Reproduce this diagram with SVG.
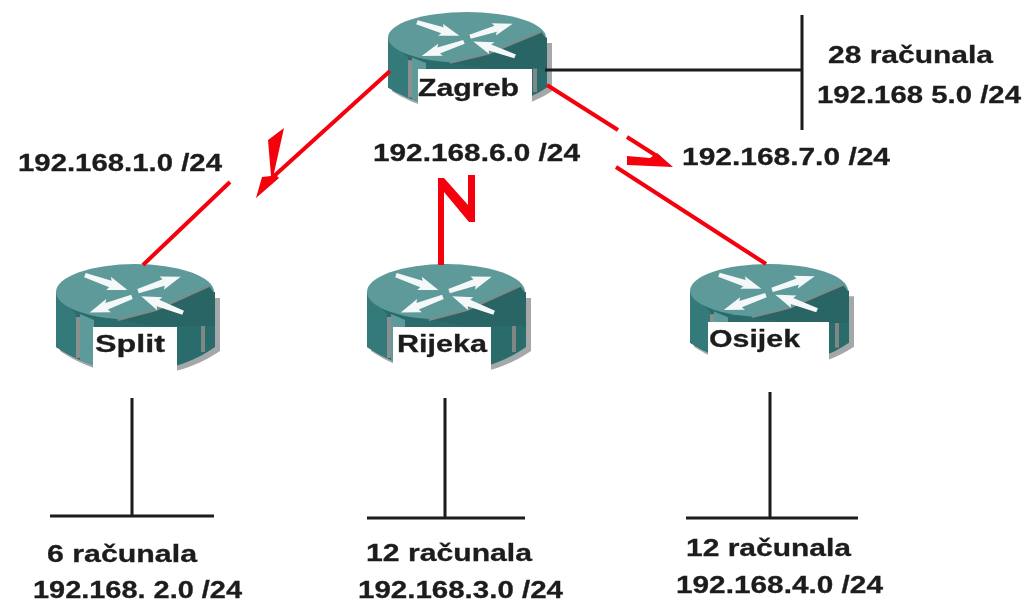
<svg xmlns="http://www.w3.org/2000/svg" xmlns:xlink="http://www.w3.org/1999/xlink" width="1031" height="602" viewBox="0 0 1031 602">
<style>
text{font-family:"Liberation Sans",Arial,sans-serif;font-weight:700;font-size:24px;fill:#1c1c1c;stroke:#1c1c1c;stroke-width:.3}
.lan{stroke:#1a1a1a;stroke-width:3;fill:none}
.wan{stroke:#f5060f;stroke-width:4;fill:none}
.bolt{fill:#f5060f}
.lab{fill:#fff}
</style>
<defs>
<filter id="soft" x="0" y="0" width="100%" height="100%" filterUnits="userSpaceOnUse"><feGaussianBlur stdDeviation="0.6"/></filter>
<polygon id="arw" points="0,-2 27,-3.5 25,-7 45,0 25,7 27,3.5 0,2.5" fill="#f4f8f8"/>
<g id="router">
<path d="M4,34V87C24,101 54,112 83,112C114,112 144,101 164,87V34Z" fill="#a4a8a8"/>
<path d="M0,28V83C20,97 50,108 79,108C110,108 140,97 159,83V28Z" fill="#2c6c6c"/>
<path d="M24,50V96L38,102V56Z" fill="#5f9a9a"/>
<path d="M0,30V83L20,94V50Z" fill="#347a7a"/>
<rect x="20" y="53" width="4" height="41" fill="#8a9090"/>
<rect x="145" y="46" width="4" height="42" fill="#7f8787"/>
<ellipse cx="79" cy="28" rx="79" ry="28" fill="#5f9a9a"/>
<path d="M62,56L100,46L153,22L159,30V62H100Z" fill="#2c6565"/>
<path d="M62,56L100,46L153,22" fill="none" stroke="#7c8c8c" stroke-width="2"/>
<use xlink:href="#arw" href="#arw" transform="translate(29,11) rotate(19.6)"/>
<use xlink:href="#arw" href="#arw" transform="translate(82,27) rotate(-18.4)"/>
<use xlink:href="#arw" href="#arw" transform="translate(76,33) rotate(160)"/>
<use xlink:href="#arw" href="#arw" transform="translate(127,49) rotate(201.8)"/>
</g>
</defs>
<g filter="url(#soft)">
<g id="zagreb"><use xlink:href="#router" href="#router" transform="translate(388,12) scale(1,.91)"/><rect class="lab" x="418" y="69" width="114" height="45"/><text x="418" y="96" textLength="101" lengthAdjust="spacingAndGlyphs">Zagreb</text></g>
<g id="split"><use xlink:href="#router" href="#router" x="56" y="264"/><rect class="lab" x="93" y="327" width="84" height="52"/><text x="95" y="352" textLength="70" lengthAdjust="spacingAndGlyphs">Split</text></g>
<g id="rijeka"><use xlink:href="#router" href="#router" x="367" y="264"/><rect class="lab" x="393" y="327" width="98" height="52"/><text x="397" y="352" textLength="90" lengthAdjust="spacingAndGlyphs">Rijeka</text></g>
<g id="osijek"><use xlink:href="#router" href="#router" transform="translate(690,264) scale(1,.95)"/><rect class="lab" x="708" y="322" width="121" height="52"/><text x="709" y="347" textLength="91" lengthAdjust="spacingAndGlyphs">Osijek</text></g>
<g id="connectors">
<path class="lan" d="M545,70H802M802,15V130"/>
<path class="lan" d="M132,398V516M50,516H214"/>
<path class="lan" d="M445,398V518M367,518H525"/>
<path class="lan" d="M770,392V518M686,518H858"/>
<path class="wan" d="M390,71L273,177M230,182L143,265"/>
<polygon class="bolt" points="256,198 262,177 271,176 268,140 284,128 274,173 279,178"/>
<path class="wan" d="M547,85L618,130M627,137L660,158M616,167L766,264"/>
<polygon class="bolt" points="627,156 650,158 657,153 673,167 627,165"/>
<polygon class="bolt" points="438,265 438,178 444,178 468,205 468,175 475,175 475,222 469,222 444,192 444,265"/>
</g>
<g id="labels">
<text x="828" y="63" textLength="165" lengthAdjust="spacingAndGlyphs">28 računala</text>
<text x="817" y="103" textLength="204" lengthAdjust="spacingAndGlyphs">192.168 5.0 /24</text>
<text x="18" y="171" textLength="204" lengthAdjust="spacingAndGlyphs">192.168.1.0 /24</text>
<text x="373" y="161" textLength="207" lengthAdjust="spacingAndGlyphs">192.168.6.0 /24</text>
<text x="682" y="165" textLength="208" lengthAdjust="spacingAndGlyphs">192.168.7.0 /24</text>
<text x="47" y="562" textLength="150" lengthAdjust="spacingAndGlyphs">6 računala</text>
<text x="33" y="598" textLength="209" lengthAdjust="spacingAndGlyphs">192.168. 2.0 /24</text>
<text x="366" y="561" textLength="166" lengthAdjust="spacingAndGlyphs">12 računala</text>
<text x="358" y="598" textLength="205" lengthAdjust="spacingAndGlyphs">192.168.3.0 /24</text>
<text x="686" y="556" textLength="165" lengthAdjust="spacingAndGlyphs">12 računala</text>
<text x="676" y="593" textLength="207" lengthAdjust="spacingAndGlyphs">192.168.4.0 /24</text>
</g>
</g>
</svg>
